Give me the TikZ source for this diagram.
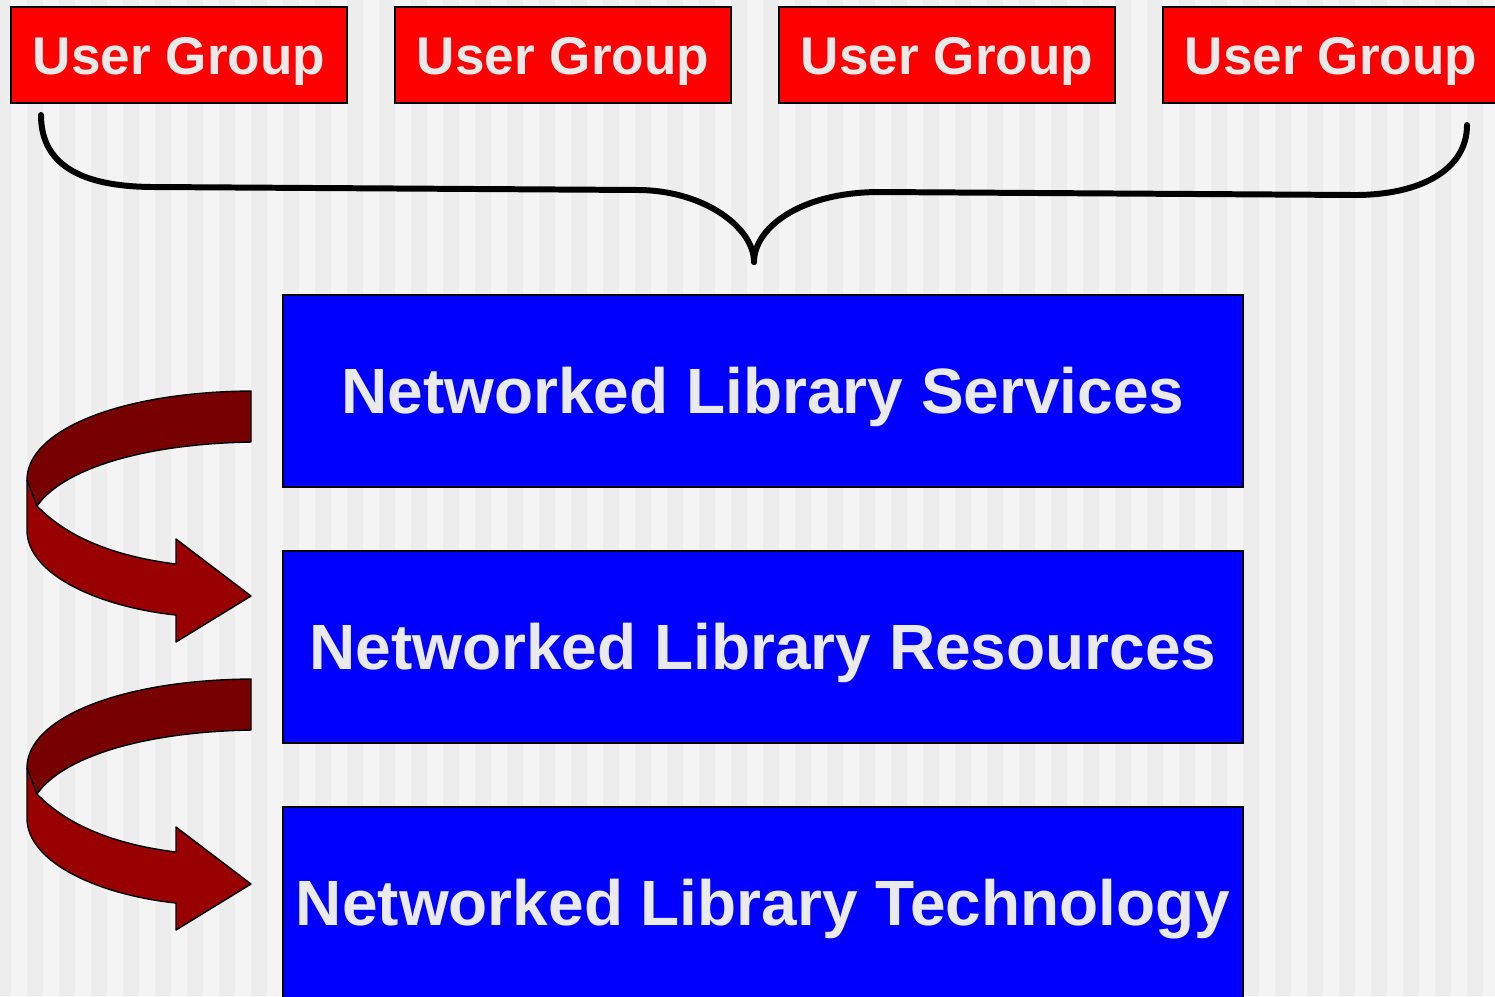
\documentclass[tikz,border=0pt]{standalone}
\usepackage{fontspec}
\setmainfont{Liberation Sans}
\usepackage{xcolor}
\usepackage{tikz}
\definecolor{bgdark}{RGB}{237,237,237}
\definecolor{bglight}{RGB}{244,244,244}
\definecolor{txtgray}{RGB}{234,234,234}
\definecolor{backred}{RGB}{119,0,0}
\definecolor{frontred}{RGB}{153,0,0}

\begin{document}
\begin{tikzpicture}[%
    x=0.01cm, y=-0.01cm,
    usergroup/.style={draw=black, line width=0.6pt, fill=red, text=txtgray,
      font=\fontsize{15.1}{18}\selectfont\bfseries,
      minimum width=3.36cm, minimum height=0.96cm, inner sep=0pt,
      text height=10.9pt, text depth=0pt},
    layer/.style={draw=black, line width=0.6pt, fill=blue, text=txtgray,
      font=\fontsize{18.2}{22}\selectfont\bfseries,
      minimum width=9.6cm, minimum height=1.92cm, inner sep=0pt,
      text height=13pt, text depth=0pt},
    bracket/.style={draw=black, line width=1.7pt, line cap=round, line join=round},
    turnback/.style={fill=backred, draw=black, line width=0.4pt, line join=round},
    turnfront/.style={fill=frontred, draw=black, line width=0.4pt, line join=round}]
    \clip (0,0) rectangle (1495,996);
    \fill[bgdark] (0,0) rectangle (1495,996);
    \foreach \i in {0,...,46}
      \fill[bglight] ({11+32*\i},0) rectangle ++(16,996);
    % the four user groups
    \foreach \i in {1,...,4}
      \node[usergroup] (ug\i) at ({179+384*(\i-1)},55) {User Group};
    \draw[bracket] (41,115) .. controls (41,170) and (90,187) .. (155,187)
      -- (640,190) .. controls (705,191) and (754,228) .. (754,262);
    \draw[bracket] (754,262) .. controls (754,228) and (800,192) .. (880,192)
      -- (1355,195) .. controls (1420,195) and (1467,170) .. (1467,125);
    % library layers
    \node[layer] (services) at (763,391) {Networked Library Services};
    \node[layer] (resources) at (763,647) {Networked Library Resources};
    \node[layer] (technology) at (763,903) {Networked Library Technology};
    \foreach \dy in {0,288} {
      \begin{scope}[shift={(0,\dy)}]
        \filldraw[turnback] (251,391) .. controls (120,392) and (27,430) .. (27,480)
          -- (37,506) .. controls (62,470) and (140,444) .. (251,442) -- cycle;
        \filldraw[turnfront] (27,480) -- (37,506) .. controls (70,540) and (120,557) .. (176,564)
          -- (176,539) -- (251,596) -- (176,642) -- (176,615)
          .. controls (100,607) and (27,575) .. (27,530) -- cycle;
      \end{scope}
    }
\end{tikzpicture}
\end{document}
